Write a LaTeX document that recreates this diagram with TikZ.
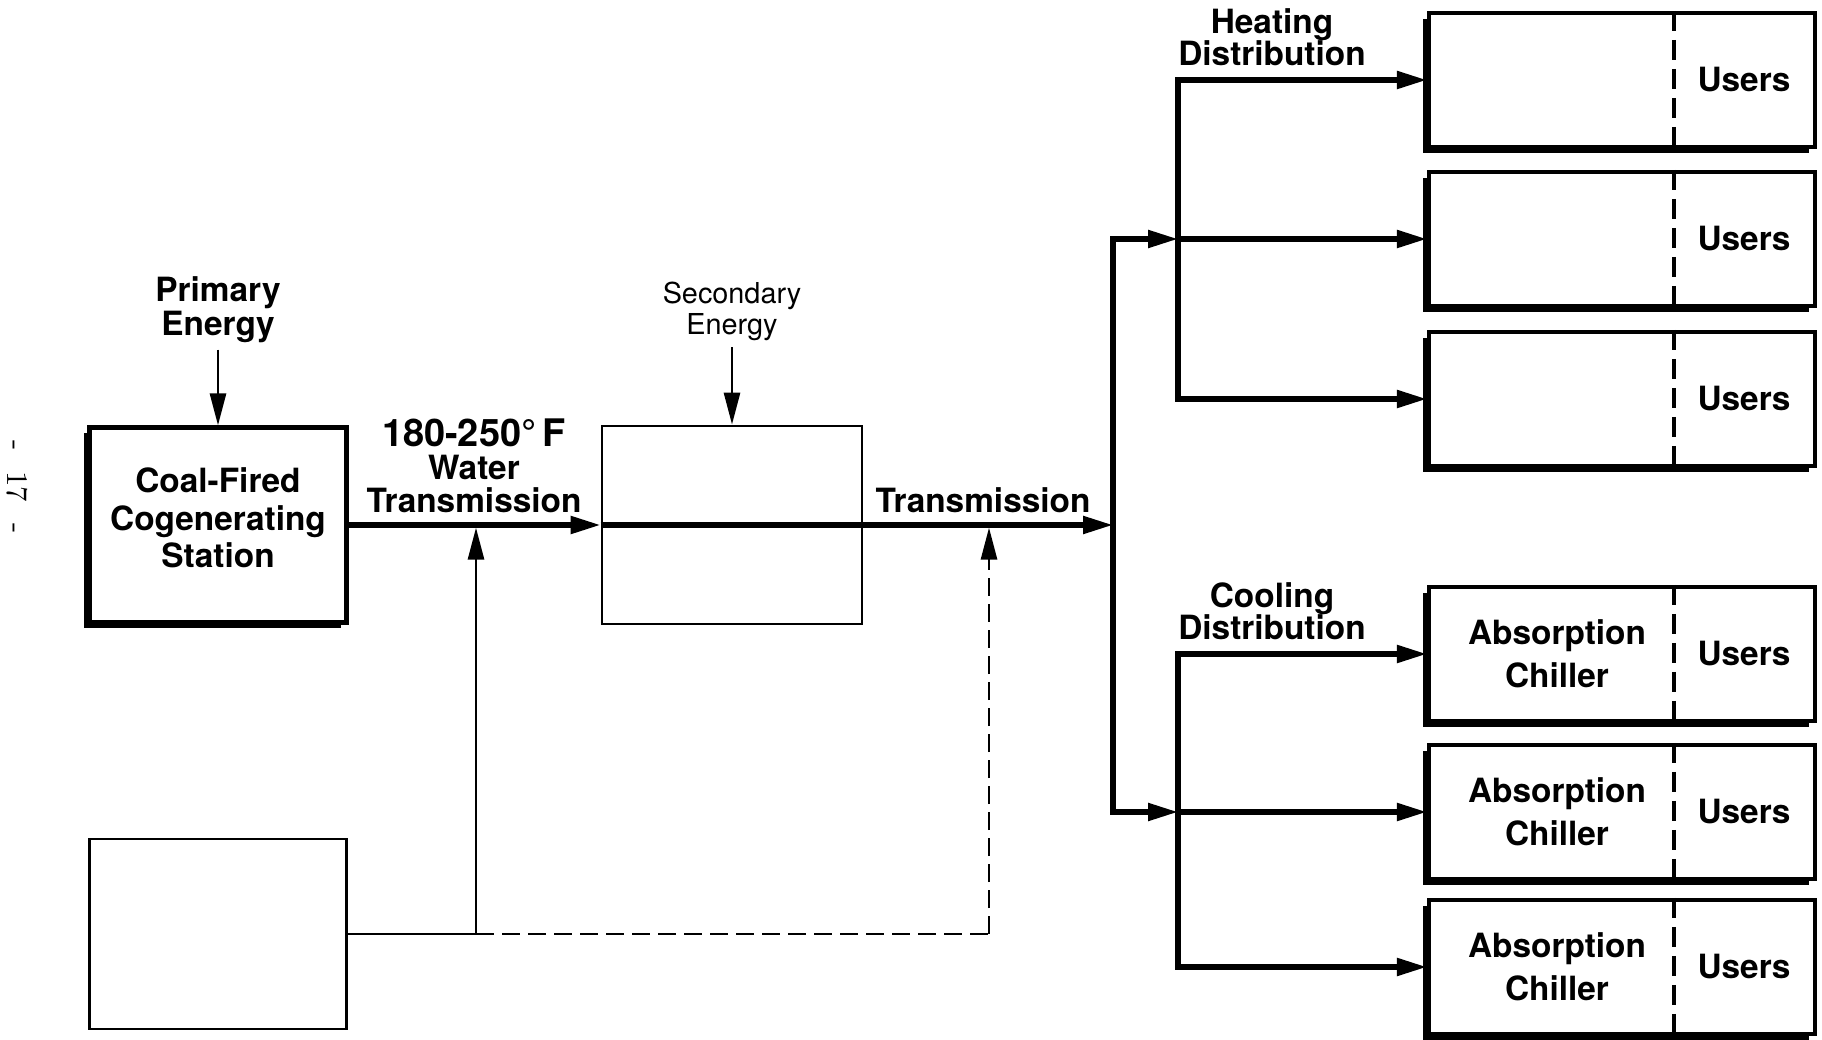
\documentclass[tikz,border=0pt]{standalone}
\usepackage{fontspec}
\setsansfont{TeX Gyre Heros}
\usetikzlibrary{arrows.meta,shadows}
\tikzset{
  lbl/.style={font=\sffamily\bfseries\fontsize{9.5}{#1}\selectfont,align=center,inner sep=0pt},
  lbl/.default=10.6,
  thinlbl/.style={font=\sffamily\fontsize{8.2}{8.8}\selectfont,align=center,inner sep=0pt},
  pagenum/.style={font=\fontsize{8.5}{8.5}\selectfont,rotate=-90,inner sep=0pt},
  unit/.style={draw,line width=1.2pt,fill=white,inner sep=0pt,
    drop shadow={shadow xshift=-0.6mm,shadow yshift=-0.6mm,opacity=1,fill=black}},
  plain/.style={draw,line width=0.8pt,inner sep=0pt},
  pipe/.style={line width=1.5pt,-{Triangle[length=3mm,width=1.7mm]}},
  feed/.style={line width=0.8pt,-{Triangle[length=3.2mm,width=1.6mm]}},
  dashline/.style={line width=0.8pt,dash pattern=on 1.8mm off 0.8mm},
  divider/.style={line width=1pt,dash pattern=on 2mm off 0.9mm}
}
\begin{document}
\begin{tikzpicture}
  \useasboundingbox (0,0) rectangle (18.22,10.39);
  \node[pagenum] (page) at (0.17,5.52) {-\hspace{6pt}17\hspace{6pt}-};

  % station and blank boxes
  \node[unit,minimum width=2.57cm,minimum height=1.95cm] (station) at (2.18,5.14) {};
  \node[lbl] (stationtxt) at (2.18,5.21) {Coal-Fired\\Cogenerating\\Station};
  \node[lbl=9.6] (prim) at (2.18,7.29) {Primary\\Energy};
  \node[plain,minimum width=2.6cm,minimum height=1.98cm] (booster) at (7.32,5.14) {};
  \node[thinlbl] (sec) at (7.32,7.28) {Secondary\\Energy};
  \node[plain,minimum width=2.57cm,minimum height=1.9cm] (aux) at (2.18,1.05) {};
  \node[lbl=9.4] (temp) at (4.74,5.73) {{\fontsize{10.8}{10}\selectfont 180-250°\,F}\\Water\\Transmission};
  \node[lbl] (trans) at (9.83,5.39) {Transmission};

  \coordinate (hub) at (11.13,5.14);
  \coordinate (hbus) at (11.78,8.0);
  \coordinate (cbus) at (11.78,2.27);
  \coordinate (tap) at (4.76,1.05);
  \coordinate (dtap) at (9.89,1.05);
  \coordinate (split) at (16.74,0);
  \coordinate (ucol) at (17.44,0);
  \coordinate (chcol) at (15.57,0);

  % users
  \node[lbl=9.2] (heatlbl) at (12.72,10.02) {Heating\\Distribution};
  \node[lbl=9.2] (coollbl) at (12.72,4.28) {Cooling\\Distribution};
  \node[unit,minimum width=3.86cm,minimum height=1.34cm] (heat1) at (16.22,9.59) {};
  \node[unit,minimum width=3.86cm,minimum height=1.34cm] (heat2) at (16.22,8.0) {};
  \node[unit,minimum width=3.86cm,minimum height=1.34cm] (heat3) at (16.22,6.40) {};
  \node[unit,minimum width=3.86cm,minimum height=1.34cm] (cool1) at (16.22,3.85) {};
  \node[unit,minimum width=3.86cm,minimum height=1.34cm] (cool2) at (16.22,2.27) {};
  \node[unit,minimum width=3.86cm,minimum height=1.34cm] (cool3) at (16.22,0.72) {};
  \draw[divider] (heat1.north -| split) -- (heat1.south -| split);
  \draw[divider] (heat2.north -| split) -- (heat2.south -| split);
  \draw[divider] (heat3.north -| split) -- (heat3.south -| split);
  \draw[divider] (cool1.north -| split) -- (cool1.south -| split);
  \draw[divider] (cool2.north -| split) -- (cool2.south -| split);
  \draw[divider] (cool3.north -| split) -- (cool3.south -| split);
  \node[lbl] (user1) at (heat1 -| ucol) {Users};
  \node[lbl] (user2) at (heat2 -| ucol) {Users};
  \node[lbl] (user3) at (heat3 -| ucol) {Users};
  \node[lbl] (user4) at (cool1 -| ucol) {Users};
  \node[lbl] (user5) at (cool2 -| ucol) {Users};
  \node[lbl] (user6) at (cool3 -| ucol) {Users};
  \node[lbl=12.2] (chill1) at (cool1 -| chcol) {Absorption\\Chiller};
  \node[lbl=12.2] (chill2) at (cool2 -| chcol) {Absorption\\Chiller};
  \node[lbl=12.2] (chill3) at (cool3 -| chcol) {Absorption\\Chiller};

  % connectors
  \draw[feed,shorten <=0.6mm] (prim.south) -- (station.north);
  \draw[feed,shorten <=0.6mm] (sec.south) -- (booster.north);
  \draw[pipe] (station.east) -- (booster.west);
  \draw[line width=1.5pt] (booster.west) -- (booster.east);
  \draw[pipe] (booster.east) -- (hub);
  \draw[pipe] (hub) |- (hbus);
  \draw[pipe] (hub) |- (cbus);
  \draw[pipe] (hbus) |- (heat1.west);
  \draw[pipe] (hbus) -- (heat2.west);
  \draw[pipe] (hbus) |- (heat3.west);
  \draw[pipe] (cbus) |- (cool1.west);
  \draw[pipe] (cbus) -- (cool2.west);
  \draw[pipe] (cbus) |- (cool3.west);
  \draw[feed,shorten >=0.75pt] (aux.east) -| (tap |- hub);
  \draw[dashline] (tap) -- (dtap);
  \draw[dashline,-{Triangle[length=3.2mm,width=1.6mm]},shorten >=0.75pt] (dtap) -- (dtap |- hub);
\end{tikzpicture}
\end{document}
